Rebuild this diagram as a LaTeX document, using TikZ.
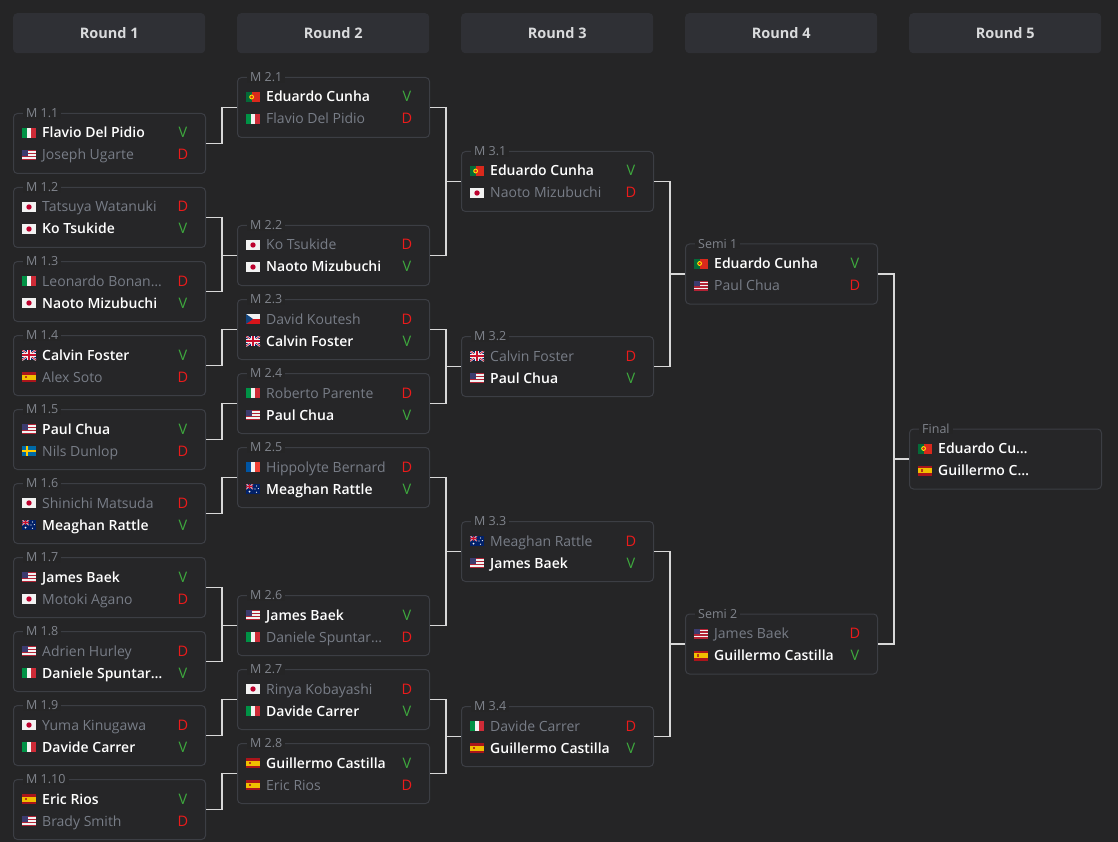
\documentclass[tikz,border=0pt]{standalone}
\usepackage{fontspec}
\setmainfont{Open Sans}
\IfFontExistsTF{Open Sans SemiBold}{\newfontfamily\semib{Open Sans SemiBold}}{%
 \IfFontExistsTF{Open Sans Semibold}{\newfontfamily\semib{Open Sans Semibold}}{%
 \newfontfamily\semib{Open Sans}[FakeBold=1.6]}}
\definecolor{bg}{HTML}{252526}
\definecolor{boxfill}{HTML}{262628}
\definecolor{boxline}{HTML}{3C3E44}
\definecolor{headfill}{HTML}{2F3035}
\definecolor{headtext}{HTML}{D9DADC}
\definecolor{wintext}{HTML}{FFFFFF}
\definecolor{losetext}{HTML}{787D87}
\definecolor{lbltext}{HTML}{80848C}
\definecolor{vgreen}{HTML}{3EAA3E}
\definecolor{dred}{HTML}{EC1B1B}
\definecolor{conncol}{HTML}{D8D8D8}
% flag colours
\definecolor{itgreen}{HTML}{009246}\definecolor{itred}{HTML}{CE2B37}
\definecolor{usred}{HTML}{B22234}\definecolor{usblue}{HTML}{3C3B6E}
\definecolor{jpred}{HTML}{BC002D}
\definecolor{ptgreen}{HTML}{046A38}\definecolor{ptred}{HTML}{DA291C}\definecolor{ptyellow}{HTML}{FFE900}
\definecolor{ukblue}{HTML}{012169}\definecolor{ukred}{HTML}{C8102E}
\definecolor{esred}{HTML}{AA151B}\definecolor{esyellow}{HTML}{F1BF00}
\definecolor{seblue}{HTML}{006AA7}\definecolor{seyellow}{HTML}{FECC02}
\definecolor{czblue}{HTML}{11457E}\definecolor{czred}{HTML}{D7141A}
\definecolor{frblue}{HTML}{0055A4}\definecolor{frred}{HTML}{EF4135}
\definecolor{aublue}{HTML}{012169}
\definecolor{flagwhite}{HTML}{F2F2F2}

\newcommand\flagIT[2]{\begin{scope}[shift={(#1,#2)}]
 \fill[itgreen] (0,0) rectangle (4.67,10);
 \fill[flagwhite] (4.67,0) rectangle (9.33,10);
 \fill[itred] (9.33,0) rectangle (14,10);\end{scope}}
\newcommand\flagFR[2]{\begin{scope}[shift={(#1,#2)}]
 \fill[frblue] (0,0) rectangle (4.67,10);
 \fill[flagwhite] (4.67,0) rectangle (9.33,10);
 \fill[frred] (9.33,0) rectangle (14,10);\end{scope}}
\newcommand\flagUS[2]{\begin{scope}[shift={(#1,#2)}]
 \fill[flagwhite] (0,0) rectangle (14,10);
 \foreach \i in {0,2,4,6} {\fill[usred] (0,\i*10/7) rectangle (14,\i*10/7+10/7);}
 \fill[usblue] (0,0) rectangle (6,10*4/7);\end{scope}}
\newcommand\flagJP[2]{\begin{scope}[shift={(#1,#2)}]
 \fill[flagwhite] (0,0) rectangle (14,10);
 \fill[jpred] (7,5) circle[radius=2.7pt];\end{scope}}
\newcommand\flagPT[2]{\begin{scope}[shift={(#1,#2)}]
 \fill[ptgreen] (0,0) rectangle (5.6,10);
 \fill[ptred] (5.6,0) rectangle (14,10);
 \fill[ptyellow] (5.6,5) circle[radius=2.4pt];
 \fill[ptred] (5.6,5) circle[radius=1.4pt];\end{scope}}
\newcommand\flagUK[2]{\begin{scope}[shift={(#1,#2)}]
 \fill[ukblue] (0,0) rectangle (14,10);
 \begin{scope}\clip (0,0) rectangle (14,10);
 \draw[flagwhite, line width=2pt] (0,0)--(14,10) (0,10)--(14,0);
 \draw[ukred, line width=0.7pt] (0,0)--(14,10) (0,10)--(14,0);\end{scope}
 \fill[flagwhite] (5.4,0) rectangle (8.6,10); \fill[flagwhite] (0,3.4) rectangle (14,6.6);
 \fill[ukred] (6.2,0) rectangle (7.8,10); \fill[ukred] (0,4.2) rectangle (14,5.8);\end{scope}}
\newcommand\flagES[2]{\begin{scope}[shift={(#1,#2)}]
 \fill[esred] (0,0) rectangle (14,10);
 \fill[esyellow] (0,2.5) rectangle (14,7.5);
 \fill[esred!80!esyellow] (3.2,3.6) rectangle (5.2,6.4);\end{scope}}
\newcommand\flagSE[2]{\begin{scope}[shift={(#1,#2)}]
 \fill[seblue] (0,0) rectangle (14,10);
 \fill[seyellow] (4,0) rectangle (6,10);
 \fill[seyellow] (0,4) rectangle (14,6);\end{scope}}
\newcommand\flagCZ[2]{\begin{scope}[shift={(#1,#2)}]
 \fill[flagwhite] (0,0) rectangle (14,5);
 \fill[czred] (0,5) rectangle (14,10);
 \fill[czblue] (0,0)--(7,5)--(0,10)--cycle;\end{scope}}
\newcommand\flagAU[2]{\begin{scope}[shift={(#1,#2)}]
 \fill[aublue] (0,0) rectangle (14,10);
 \begin{scope}\clip (0,0) rectangle (7,5);
 \draw[flagwhite, line width=1.2pt] (0,0)--(7,5) (0,5)--(7,0);
 \draw[ukred, line width=0.4pt] (0,0)--(7,5) (0,5)--(7,0);\end{scope}
 \fill[flagwhite] (2.8,0) rectangle (4.2,5); \fill[flagwhite] (0,1.8) rectangle (7,3.2);
 \fill[ukred] (3.1,0) rectangle (3.9,5); \fill[ukred] (0,2.1) rectangle (7,2.9);
 \fill[flagwhite] (3.5,7.6) circle[radius=1pt];
 \fill[flagwhite] (10.5,2) circle[radius=0.6pt];
 \fill[flagwhite] (12.3,4.6) circle[radius=0.6pt];
 \fill[flagwhite] (9,5) circle[radius=0.6pt];
 \fill[flagwhite] (10.5,8.2) circle[radius=0.6pt];\end{scope}}

% a match box: id, left, top, label
\newcommand\bmatch[4]{%
 \node[mbox] (#1) at (#2,#3) {};
 \node[mlabel] (#1l) at (#2+10,#3) {#4};}
% a row: id, left, baseline, flag, style, name, result
\newcommand\brow[7]{%
 \csname flag#4\endcsname{#2+9}{#3-10}%
 \node[#5] (#1) at (#2+29,#3) {#6};
 \node[res#7] (#1r) at (#2+170,#3) {#7};}
% a row without result
\newcommand\browx[6]{%
 \csname flag#4\endcsname{#2+9}{#3-10}%
 \node[#5] (#1) at (#2+29,#3) {#6};}
% pair connector and single connector
\newcommand\pairconn[3]{%
 \draw[conn] (#1.east) -- ++(16,0) |- (#2.east);
 \draw[conn] (#3.west) -- ++(-16,0);}
\newcommand\oneconn[2]{%
 \draw[conn] (#1.east) -- ++(16,0) |- (#2.west);}

\begin{document}
\begin{tikzpicture}[x=1pt,y=-1pt,
 header/.style={fill=headfill, rounded corners=4pt, minimum width=192pt, minimum height=40pt, inner sep=0pt, anchor=north west},
 headtxt/.style={text=headtext, font=\fontsize{14.5}{17}\selectfont\bfseries, inner sep=0pt},
 mbox/.style={draw=boxline, fill=boxfill, rounded corners=4pt, minimum width=192pt, minimum height=60pt, inner sep=0pt, anchor=north west, line width=1pt},
 mlabel/.style={fill=bg, text=lbltext, font=\fontsize{12.5}{14}\selectfont, inner xsep=3pt, inner ysep=1pt, anchor=west},
 win/.style={text=wintext, font=\fontsize{14}{16}\selectfont\semib, anchor=base west, inner sep=0pt},
 lose/.style={text=losetext, font=\fontsize{14}{16}\selectfont, anchor=base west, inner sep=0pt},
 resV/.style={text=vgreen, font=\fontsize{14.5}{16}\selectfont, anchor=base, inner sep=0pt},
 resD/.style={text=dred, font=\fontsize{14.5}{16}\selectfont, anchor=base, inner sep=0pt},
 conn/.style={draw=conncol, line width=1.2pt}]
\fill[bg] (0,0) rectangle (1118,842);
\useasboundingbox (0,0) rectangle (1118,842);

% headers
\node[header] (h1) at (13,13) {};  \node[headtxt] (h1t) at (h1.center) {Round 1};
\node[header] (h2) at (237,13) {}; \node[headtxt] (h2t) at (h2.center) {Round 2};
\node[header] (h3) at (461,13) {}; \node[headtxt] (h3t) at (h3.center) {Round 3};
\node[header] (h4) at (685,13) {}; \node[headtxt] (h4t) at (h4.center) {Round 4};
\node[header] (h5) at (909,13) {}; \node[headtxt] (h5t) at (h5.center) {Round 5};

% ---------- Round 1 ----------
\bmatch{m11}{13}{113}{M 1.1}
\brow{m11a}{13}{138}{IT}{win}{Flavio Del Pidio}{V}
\brow{m11b}{13}{160}{US}{lose}{Joseph Ugarte}{D}
\bmatch{m12}{13}{187}{M 1.2}
\brow{m12a}{13}{212}{JP}{lose}{Tatsuya Watanuki}{D}
\brow{m12b}{13}{234}{JP}{win}{Ko Tsukide}{V}
\bmatch{m13}{13}{261}{M 1.3}
\brow{m13a}{13}{286}{IT}{lose}{Leonardo Bonan…}{D}
\brow{m13b}{13}{308}{JP}{win}{Naoto Mizubuchi}{V}
\bmatch{m14}{13}{335}{M 1.4}
\brow{m14a}{13}{360}{UK}{win}{Calvin Foster}{V}
\brow{m14b}{13}{382}{ES}{lose}{Alex Soto}{D}
\bmatch{m15}{13}{409}{M 1.5}
\brow{m15a}{13}{434}{US}{win}{Paul Chua}{V}
\brow{m15b}{13}{456}{SE}{lose}{Nils Dunlop}{D}
\bmatch{m16}{13}{483}{M 1.6}
\brow{m16a}{13}{508}{JP}{lose}{Shinichi Matsuda}{D}
\brow{m16b}{13}{530}{AU}{win}{Meaghan Rattle}{V}
\bmatch{m17}{13}{557}{M 1.7}
\brow{m17a}{13}{582}{US}{win}{James Baek}{V}
\brow{m17b}{13}{604}{JP}{lose}{Motoki Agano}{D}
\bmatch{m18}{13}{631}{M 1.8}
\brow{m18a}{13}{656}{US}{lose}{Adrien Hurley}{D}
\brow{m18b}{13}{678}{IT}{win}{Daniele Spuntar…}{V}
\bmatch{m19}{13}{705}{M 1.9}
\brow{m19a}{13}{730}{JP}{lose}{Yuma Kinugawa}{D}
\brow{m19b}{13}{752}{IT}{win}{Davide Carrer}{V}
\bmatch{m110}{13}{779}{M 1.10}
\brow{m110a}{13}{804}{ES}{win}{Eric Rios}{V}
\brow{m110b}{13}{826}{US}{lose}{Brady Smith}{D}

% ---------- Round 2 ----------
\bmatch{m21}{237}{77}{M 2.1}
\brow{m21a}{237}{102}{PT}{win}{Eduardo Cunha}{V}
\brow{m21b}{237}{124}{IT}{lose}{Flavio Del Pidio}{D}
\bmatch{m22}{237}{225}{M 2.2}
\brow{m22a}{237}{250}{JP}{lose}{Ko Tsukide}{D}
\brow{m22b}{237}{272}{JP}{win}{Naoto Mizubuchi}{V}
\bmatch{m23}{237}{299}{M 2.3}
\brow{m23a}{237}{324}{CZ}{lose}{David Koutesh}{D}
\brow{m23b}{237}{346}{UK}{win}{Calvin Foster}{V}
\bmatch{m24}{237}{373}{M 2.4}
\brow{m24a}{237}{398}{IT}{lose}{Roberto Parente}{D}
\brow{m24b}{237}{420}{US}{win}{Paul Chua}{V}
\bmatch{m25}{237}{447}{M 2.5}
\brow{m25a}{237}{472}{FR}{lose}{Hippolyte Bernard}{D}
\brow{m25b}{237}{494}{AU}{win}{Meaghan Rattle}{V}
\bmatch{m26}{237}{595}{M 2.6}
\brow{m26a}{237}{620}{US}{win}{James Baek}{V}
\brow{m26b}{237}{642}{IT}{lose}{Daniele Spuntar…}{D}
\bmatch{m27}{237}{669}{M 2.7}
\brow{m27a}{237}{694}{JP}{lose}{Rinya Kobayashi}{D}
\brow{m27b}{237}{716}{IT}{win}{Davide Carrer}{V}
\bmatch{m28}{237}{743}{M 2.8}
\brow{m28a}{237}{768}{ES}{win}{Guillermo Castilla}{V}
\brow{m28b}{237}{790}{ES}{lose}{Eric Rios}{D}

% ---------- Round 3 ----------
\bmatch{m31}{461}{151}{M 3.1}
\brow{m31a}{461}{176}{PT}{win}{Eduardo Cunha}{V}
\brow{m31b}{461}{198}{JP}{lose}{Naoto Mizubuchi}{D}
\bmatch{m32}{461}{336}{M 3.2}
\brow{m32a}{461}{361}{UK}{lose}{Calvin Foster}{D}
\brow{m32b}{461}{383}{US}{win}{Paul Chua}{V}
\bmatch{m33}{461}{521}{M 3.3}
\brow{m33a}{461}{546}{AU}{lose}{Meaghan Rattle}{D}
\brow{m33b}{461}{568}{US}{win}{James Baek}{V}
\bmatch{m34}{461}{706}{M 3.4}
\brow{m34a}{461}{731}{IT}{lose}{Davide Carrer}{D}
\brow{m34b}{461}{753}{ES}{win}{Guillermo Castilla}{V}

% ---------- Round 4 ----------
\bmatch{s1}{685}{243.5}{Semi 1}
\brow{s1a}{685}{268.5}{PT}{win}{Eduardo Cunha}{V}
\brow{s1b}{685}{290.5}{US}{lose}{Paul Chua}{D}
\bmatch{s2}{685}{613.5}{Semi 2}
\brow{s2a}{685}{638.5}{US}{lose}{James Baek}{D}
\brow{s2b}{685}{660.5}{ES}{win}{Guillermo Castilla}{V}

% ---------- Round 5 ----------
\bmatch{fin}{909}{428.5}{Final}
\browx{fina}{909}{453.5}{PT}{win}{Eduardo Cu…}
\browx{finb}{909}{475.5}{ES}{win}{Guillermo C…}

% ---------- connectors ----------
\oneconn{m11}{m21}
\pairconn{m12}{m13}{m22}
\oneconn{m14}{m23}
\oneconn{m15}{m24}
\oneconn{m16}{m25}
\pairconn{m17}{m18}{m26}
\oneconn{m19}{m27}
\oneconn{m110}{m28}
\pairconn{m21}{m22}{m31}
\pairconn{m23}{m24}{m32}
\pairconn{m25}{m26}{m33}
\pairconn{m27}{m28}{m34}
\pairconn{m31}{m32}{s1}
\pairconn{m33}{m34}{s2}
\pairconn{s1}{s2}{fin}
\end{tikzpicture}
\end{document}
